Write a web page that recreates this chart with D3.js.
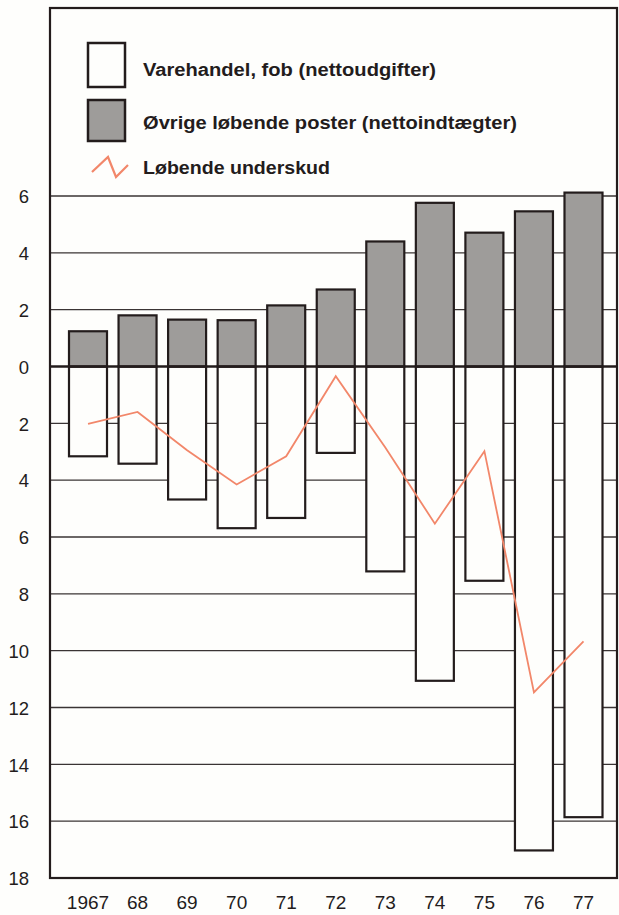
<!DOCTYPE html>
<html>
<head>
<meta charset="utf-8">
<script src="https://cdn.jsdelivr.net/npm/d3@7"></script>
<style>
  html, body { margin: 0; padding: 0; background: #fefefc; }
  svg { display: block; }
</style>
</head>
<body>
<script>
// ---- Data ----
const years = ["1967", "68", "69", "70", "71", "72", "73", "74", "75", "76", "77"];
// Øvrige løbende poster (nettoindtægter), positive
const otherItems = [1.24, 1.80, 1.65, 1.63, 2.15, 2.71, 4.40, 5.76, 4.71, 5.46, 6.12];
// Varehandel, fob (nettoudgifter), negative
const tradeBalance = [-3.16, -3.42, -4.68, -5.69, -5.33, -3.04, -7.21, -11.06, -7.54, -17.03, -15.86];
// Løbende underskud
const currentDeficit = [-2.02, -1.60, -2.95, -4.15, -3.16, -0.34, -2.85, -5.53, -2.98, -11.47, -9.67];
const yTicks = [6, 4, 2, 0, -2, -4, -6, -8, -10, -12, -14, -16, -18];
const legendLabels = ["Varehandel, fob (nettoudgifter)", "Øvrige løbende poster (nettoindtægter)", "Løbende underskud"];

const W = 619, H = 915;
const frame = { left: 50, right: 617, top: 8, bottom: 878 };
const ink = "#231c1c";
const greyFill = "#9e9c9a";
const lineColor = "#f2876a";

const svg = d3.select("body").append("svg").attr("width", W).attr("height", H);
svg.append("rect").attr("width", W).attr("height", H).attr("fill", "#fefefc");

const x = d3.scaleBand().domain(years).range([63.3, 608.2]).paddingInner(0.233).paddingOuter(0.115);
const y = d3.scaleLinear().domain([-18, 6]).range([878, 196]);

// gridlines
svg.append("g").selectAll("line").data(yTicks.filter(d => d !== 0 && d !== -18)).join("line")
  .attr("x1", frame.left).attr("x2", frame.right)
  .attr("y1", d => y(d)).attr("y2", d => y(d))
  .attr("stroke", "#3a3434").attr("stroke-width", 1.3);

// y axis labels
const yAxis = d3.axisLeft(y).tickValues(yTicks).tickFormat(d => Math.abs(d)).tickSize(0).tickPadding(0);
const yg = svg.append("g").attr("transform", `translate(29,0)`).call(yAxis);
yg.select(".domain").remove();
yg.selectAll("text").attr("font-family", "Liberation Sans, Arial, sans-serif")
  .attr("font-size", 18.5).attr("fill", ink).attr("dy", "0.36em");

// x axis labels
const xAxis = d3.axisBottom(x).tickSize(0).tickPadding(0);
const xg = svg.append("g").attr("transform", `translate(0,909)`).call(xAxis);
xg.select(".domain").remove();
xg.selectAll("text").attr("font-family", "Liberation Sans, Arial, sans-serif")
  .attr("font-size", 19).attr("fill", ink).attr("dy", 0).attr("y", 0);

// negative (white) bars
svg.append("g").selectAll("rect").data(tradeBalance).join("rect")
  .attr("x", (d, i) => x(years[i])).attr("width", x.bandwidth())
  .attr("y", y(0)).attr("height", d => y(d) - y(0))
  .attr("fill", "#fefefc").attr("stroke", ink).attr("stroke-width", 2.2);

// positive (grey) bars
svg.append("g").selectAll("rect").data(otherItems).join("rect")
  .attr("x", (d, i) => x(years[i])).attr("width", x.bandwidth())
  .attr("y", d => y(d)).attr("height", d => y(0) - y(d))
  .attr("fill", greyFill).attr("stroke", ink).attr("stroke-width", 2.2);

// zero line
svg.append("line").attr("x1", frame.left).attr("x2", frame.right)
  .attr("y1", y(0)).attr("y2", y(0)).attr("stroke", ink).attr("stroke-width", 2.6);

// deficit line
const line = d3.line().x((d, i) => x(years[i]) + x.bandwidth() / 2).y(d => y(d));
svg.append("path").datum(currentDeficit).attr("d", line)
  .attr("fill", "none").attr("stroke", lineColor).attr("stroke-width", 1.8)
  .attr("stroke-linejoin", "miter");

// frame
svg.append("rect").attr("x", frame.left).attr("y", frame.top)
  .attr("width", frame.right - frame.left).attr("height", frame.bottom - frame.top)
  .attr("fill", "none").attr("stroke", ink).attr("stroke-width", 2.2);

// legend
const lg = svg.append("g");
lg.append("rect").attr("x", 88).attr("y", 43).attr("width", 37).attr("height", 44)
  .attr("fill", "#fefefc").attr("stroke", ink).attr("stroke-width", 2.5);
lg.append("rect").attr("x", 88).attr("y", 100).attr("width", 37).attr("height", 41)
  .attr("fill", greyFill).attr("stroke", ink).attr("stroke-width", 2.5);
lg.append("path").attr("d", "M92,172L108,157L116,177L128,165")
  .attr("fill", "none").attr("stroke", lineColor).attr("stroke-width", 2.2);
const legY = [76, 129, 174];
const legW = [293, 374, 187];
lg.selectAll("text.leg").data(legendLabels).join("text").attr("class", "leg")
  .attr("x", 143).attr("y", (d, i) => legY[i])
  .attr("font-family", "Liberation Sans, Arial, sans-serif").attr("font-weight", "bold")
  .attr("font-size", 18).attr("fill", ink)
  .attr("textLength", (d, i) => legW[i]).attr("lengthAdjust", "spacingAndGlyphs")
  .text(d => d);
</script>
</body>
</html>
